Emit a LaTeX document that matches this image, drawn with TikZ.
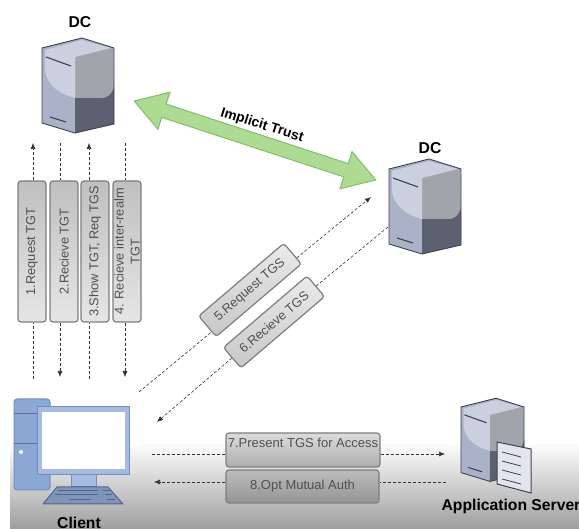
\documentclass[tikz,border=0pt]{standalone}
\usepackage{fontspec}
\setmainfont{Liberation Sans}
\usepackage{tikz}
\usetikzlibrary{arrows.meta}
\usetikzlibrary{calc}
\usetikzlibrary{shapes.arrows}
\definecolor{srvline}{HTML}{3E4250}
\definecolor{srvleft}{HTML}{A9B2C6}
\definecolor{srvhigh}{HTML}{CBD0DE}
\definecolor{srvright}{HTML}{A1A4AA}
\definecolor{srvdark}{HTML}{5C6172}
\definecolor{pcblue}{HTML}{A6BBDD}
\definecolor{pctower}{HTML}{8BA7D4}
\definecolor{pcline}{HTML}{6E8FC6}
\definecolor{keyblue}{HTML}{8095B8}
\definecolor{keyline}{HTML}{4E6690}
\definecolor{trustfill}{HTML}{ADDB94}
\definecolor{trustline}{HTML}{84BE69}
\definecolor{boxline}{HTML}{7E7E7E}
\definecolor{boxtext}{HTML}{505050}
\tikzset{
	stepbox/.style={draw=boxline,line width=1.2pt,rounded corners=3pt,minimum width=141pt,minimum height=28pt,inner sep=0pt,text=boxtext,font=\fontsize{12.8}{16}\selectfont,top color=#1,bottom color=white!90!black},
	stepbox/.default=black!25,
	flowline/.style={densely dashed,line width=.6pt,black!80},
	flowtip/.style={flowline,-{Latex[length=6pt,width=5pt]}},
	title/.style={font=\bfseries\fontsize{15.7}{17}\selectfont,inner sep=0pt},
	serverpic/.pic={
		\fill[srvleft] (0,0) -- (40,-10) -- (72,0) -- (72,76) -- (33,85) -- (0,75) -- cycle;
		\fill[srvdark] (33,50) -- (58,50) .. controls (66,50) and (70,46) .. (72,38) -- (72,76) -- (33,85) -- cycle;
		\fill[srvright] (33,9) -- (71,-1) -- (72,38) .. controls (70,46) and (66,50) .. (58,50) -- (33,50) -- cycle;
		\fill[srvhigh] (3,2) -- (40,-8) -- (69,0) -- (33,9) -- (33,50) .. controls (18,46) and (5,38) .. (3,22) -- cycle;
		\draw[srvline,line width=.9pt,line join=round] (0,0) -- (40,-10) -- (72,0) -- (72,76) -- (33,85) -- (0,75) -- cycle;
		\draw[srvline,line width=1.1pt] (4,9) -- (29,18);
		\draw[srvline,line width=1.1pt] (8,69) -- (24,74);
	}
}
\begin{document}
\begin{tikzpicture}[x=1pt,y=-1pt]
	\useasboundingbox (0,0) rectangle (579,529);
	\fill[white] (0,0) rectangle (579,529);
	\shade[top color=white,bottom color=black!38] (10,442) rectangle (579,529);

	\pic at (42,48) {serverpic};
	\pic at (389,169) {serverpic};
	\pic[scale=.875] at (461,407) {serverpic};
	\node[title] (dcone) at (80,22) {DC};
	\node[title] (dctwo) at (430,148) {DC};
	\node[title] (appserver) at (511,506) {Application Server};
	\node[title] (client) at (79,522.5) {Client};

	\node[draw=trustline,fill=trustfill,line width=1pt,shape=double arrow,rotate=-18.1,minimum height=254pt,text height=13pt,text depth=0pt,inner sep=0pt,double arrow head extend=12.5pt,double arrow tip angle=64] (trust) at (255,140.5) {};
	\node[rotate=-17.4,inner sep=0pt,font=\bfseries\fontsize{13.8}{15}\selectfont] (trustlabel) at (262,125.5) {Implicit Trust};

	\node[stepbox,rotate=90] (reqtgt) at (32,251.5) {1.Request TGT};
	\node[stepbox,rotate=90] (recvtgt) at (64,251.5) {2.Recieve TGT};
	\node[stepbox,rotate=90] (showtgt) at (95,251.5) {3.Show TGT, Req TGS};
	\node[stepbox,rotate=90,align=center] (recvinter) at (127,251.5) {4. Recieve inter-realm\\TGT};
	\node[stepbox=black!8,bottom color=black!22,rotate=40.5,minimum width=112pt,minimum height=27pt] (reqtgs) at (250,290) {5.Request TGS};
	\node[stepbox=black!8,bottom color=black!22,rotate=40.5,minimum width=110pt,minimum height=27pt] (recvtgs) at (274,322) {6.Recieve TGS};
	\node[stepbox=black!14,bottom color=black!32,minimum width=154pt,minimum height=34pt,align=center,font=\fontsize{13}{14}\selectfont] (present) at (303,450) {7.Present TGS for Access\\~};
	\node[stepbox=black!26,bottom color=black!42,minimum width=153pt,minimum height=33pt,font=\fontsize{13}{14}\selectfont] (mutual) at (302.5,486.5) {8.Opt Mutual Auth};

	\coordinate (onetop) at (33,143);
	\coordinate (onebot) at (33,379);
	\coordinate (twotop) at (60,143);
	\coordinate (twobot) at (60,377);
	\coordinate (threetop) at (89,143);
	\coordinate (threebot) at (89,379);
	\coordinate (fourtop) at (125,143);
	\coordinate (fourbot) at (125,377);
	\coordinate (fivestart) at (139,392);
	\coordinate (fiveend) at (371,197);
	\coordinate (sixend) at (157,422);
	\coordinate (sixstart) at (388,227);
	\coordinate (sevenstart) at (152,454);
	\coordinate (sevenend) at (445,454);
	\coordinate (eightend) at (154,482);
	\coordinate (eightstart) at (446,482);

	\draw[flowtip] (onetop |- reqtgt.east) -- (onetop);
	\draw[flowline] (onebot) -- (onebot |- reqtgt.west);
	\draw[flowline] (twotop) -- (twotop |- recvtgt.east);
	\draw[flowtip] (twobot |- recvtgt.west) -- (twobot);
	\draw[flowtip] (threetop |- showtgt.east) -- (threetop);
	\draw[flowline] (threebot) -- (threebot |- showtgt.west);
	\draw[flowline,line width=.4pt] (fourtop) -- (fourtop |- recvinter.east);
	\draw[flowtip,line width=.4pt] (fourbot |- recvinter.west) -- (fourbot);
	\draw[flowline] (fivestart) -- (reqtgs.187);
	\draw[flowtip] (reqtgs.354) -- (fiveend);
	\draw[flowline] (sixstart) -- (recvtgs.east);
	\draw[flowtip] (recvtgs.west) -- (sixend);
	\draw[flowline] (sevenstart) -- (sevenstart -| present.west);
	\draw[flowtip] (sevenend -| present.east) -- (sevenend);
	\draw[flowline] (eightstart) -- (eightstart -| mutual.east);
	\draw[flowtip] (eightend -| mutual.west) -- (eightend);

	\draw[srvline,line width=1pt,fill=srvhigh!55] (497,442) -- (531,449) -- (531,493) -- (497,484) -- cycle;
	\foreach \ypos in {452,461,470,479}
		\draw[srvline,line width=.8pt] (502,\ypos) -- (521,\ypos+5);

	\draw[pcline,fill=pctower,line width=1pt,rounded corners=3pt] (14,399) rectangle (50,490);
	\draw[pcline!80!black,line width=1pt] (14,414) -- (37,414);
	\draw[pcline!80!black,line width=1pt] (14,444) -- (37,444);
	\fill[white] (21,452) circle (2pt);
	\draw[pcline,fill=pcblue,line width=1pt] (71,475) rectangle (96,487);
	\draw[pcline,fill=pcblue,line width=1pt] (37,407) rectangle (129,475);
	\draw[pcline!60,fill=white,line width=.6pt] (41,411) rectangle (125,469);
	\draw[keyline,fill=keyblue,line width=1pt,line join=round] (57,487) -- (108,487) -- (123,504) -- (43,504) -- cycle;
	\draw[keyline,line width=1pt] (58,491) -- (98,491);
	\draw[keyline,line width=1pt] (55,495) -- (98,495);
	\draw[keyline,line width=1pt] (70,500) -- (91,500);
	\draw[keyline,line width=1pt] (103,491) -- (110,491);
	\draw[keyline,line width=1pt] (105,495) -- (112,495);
	\draw[keyline,line width=1pt] (107,500) -- (115,500);
\end{tikzpicture}
\end{document}
